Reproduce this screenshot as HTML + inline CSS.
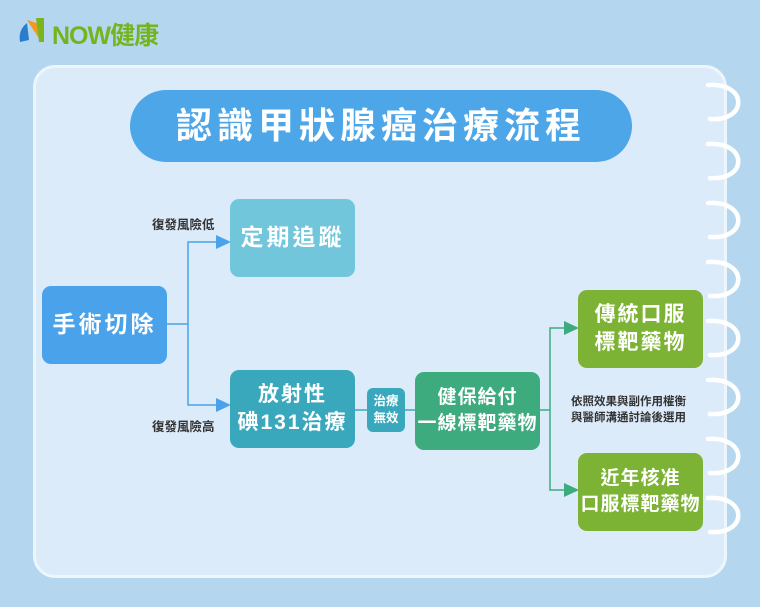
<!DOCTYPE html>
<html><head><meta charset="utf-8"><style>
body{margin:0;width:760px;height:607px;background:#b4d7ef;position:relative;overflow:hidden;font-family:"Liberation Sans","Noto Sans CJK TC",sans-serif;}
.a{position:absolute;}
.card{left:33px;top:65px;width:694px;height:513px;background:#dcebfa;border:3px solid #eef6fd;border-radius:22px;box-sizing:border-box;}
.box{position:absolute;border-radius:9px;color:#fff;font-weight:bold;display:flex;align-items:center;justify-content:center;text-align:center;line-height:1.35;letter-spacing:2px;}
.lbl{position:absolute;font-size:12.5px;font-weight:bold;color:#333;}
</style></head><body>
<div class="a" style="left:16px;top:14px;width:34px;height:34px">
<svg width="36" height="34"><path d="M4 28 Q2 16 11 9 L13 26 Z" fill="#2a7ccc"/><path d="M11 6 L24 26 L24 10 Z" fill="#f39a1e"/><path d="M20 4 L28 4 L28 28 L23 28 Z" fill="#7ab51d"/></svg></div>
<div class="a" style="left:52px;top:16px;font-size:25px;font-weight:bold;color:#76b41f;letter-spacing:-1px">NOW健康</div>
<div class="a card"></div>
<svg class="a" style="left:0;top:0" width="760" height="607">
<g fill="none" stroke="#fff" stroke-width="4.5" stroke-linecap="round">
<path d="M708 85 C748 82 748 122 710 119"/><path d="M708 144 C748 141 748 181 710 178"/><path d="M708 203 C748 200 748 240 710 237"/><path d="M708 262 C748 259 748 299 710 296"/><path d="M708 321 C748 318 748 358 710 355"/><path d="M708 380 C748 377 748 417 710 414"/><path d="M708 439 C748 436 748 476 710 473"/><path d="M708 498 C748 495 748 535 710 532"/>
</g>
<g stroke="#4aa3ea" stroke-width="1.5" fill="none"><path d="M167 324 H188 V242 H218 M188 324 V405 H218"/></g>
<path d="M216 235 L231 242 L216 249Z M216 398 L231 405 L216 412Z" fill="#4aa3ea"/>
<g stroke="#3aa8bc" stroke-width="1.5"><path d="M355 410 H367 M405 410 H415"/></g>
<g stroke="#3dab7e" stroke-width="1.5" fill="none"><path d="M540 410 H550 V328 H566 M550 410 V490 H566"/></g>
<path d="M564 321 L579 328 L564 335Z M564 483 L579 490 L564 497Z" fill="#3dab7e"/>
</svg>
<div class="box" style="left:130px;top:90px;width:502px;height:72px;border-radius:36px;background:#4da6e8;font-size:36px;letter-spacing:5px">認識甲狀腺癌治療流程</div>
<div class="box" style="left:42px;top:286px;width:125px;height:78px;background:#4aa3ea;font-size:23px;letter-spacing:3px">手術切除</div>
<div class="box" style="left:230px;top:199px;width:125px;height:78px;background:#72c6db;font-size:23px;letter-spacing:3px">定期追蹤</div>
<div class="box" style="left:230px;top:370px;width:125px;height:78px;background:#3aa8bc;font-size:21px">放射性<br>碘131治療</div>
<div class="box" style="left:367px;top:388px;width:38px;height:44px;border-radius:6px;background:#3aa8bc;font-size:12.5px;line-height:1.35;letter-spacing:0">治療<br>無效</div>
<div class="box" style="left:415px;top:372px;width:125px;height:78px;background:#3dab7e;font-size:19px;letter-spacing:1px">健保給付<br>一線標靶藥物</div>
<div class="box" style="left:578px;top:290px;width:125px;height:78px;background:#7db334;font-size:21px">傳統口服<br>標靶藥物</div>
<div class="box" style="left:578px;top:453px;width:125px;height:78px;background:#7db334;font-size:19px;letter-spacing:1px">近年核准<br>口服標靶藥物</div>
<div class="lbl" style="left:152px;top:214px">復發風險低</div>
<div class="lbl" style="left:152px;top:416px">復發風險高</div>
<div class="lbl" style="left:571px;top:394px;font-size:11.5px;line-height:16px">依照效果與副作用權衡<br>與醫師溝通討論後選用</div>
</body></html>
